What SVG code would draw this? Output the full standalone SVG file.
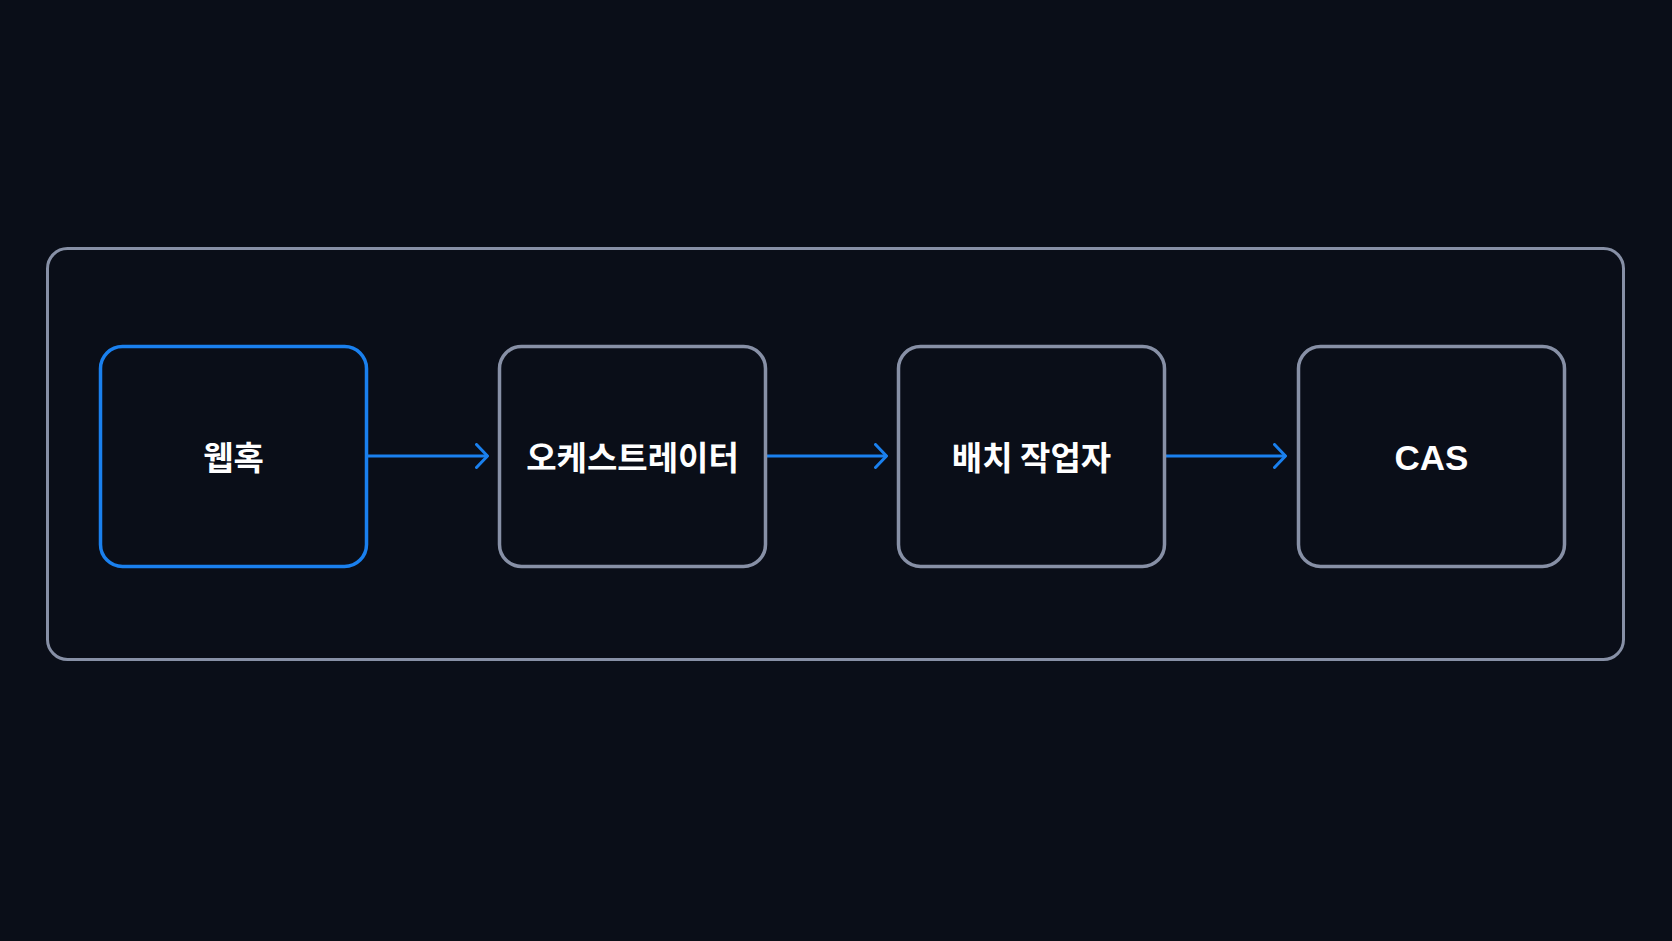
<svg xmlns="http://www.w3.org/2000/svg" width="1672" height="941" viewBox="0 0 1672 941">
<defs>
<style>
.bg{fill:#0a0e18}
.frame{fill:none;stroke:#8790a6;stroke-width:3}
.node{fill:#0a0e18;stroke:#8790a6;stroke-width:3.5}
.node.active{stroke:#1a80ee}
.lbl{font-family:"Noto Sans CJK KR","Noto Sans",sans-serif;font-weight:700;font-size:33px;fill:#ffffff;text-anchor:middle;dominant-baseline:central}
.latin{font-family:"Liberation Sans","Noto Sans CJK KR",sans-serif;font-size:35px}
.conn{fill:none;stroke:#1a80ee;stroke-width:3}
</style>
<marker id="chev" viewBox="0 0 14 26" refX="13" refY="13" markerWidth="14" markerHeight="26" markerUnits="userSpaceOnUse" orient="auto">
<path d="M1.5 1.5 L12.5 13 L1.5 24.5" fill="none" stroke="#1a80ee" stroke-width="3" stroke-linecap="round" stroke-linejoin="round"/>
</marker>
</defs>
<rect class="bg" x="0" y="0" width="1672" height="941"/>
<rect id="container" class="frame" x="47.5" y="248.5" width="1576" height="411" rx="20"/>
<g id="connectors">
<path class="conn" d="M367 456 H488" marker-end="url(#chev)"/>
<path class="conn" d="M766 456 H887" marker-end="url(#chev)"/>
<path class="conn" d="M1165 456 H1286" marker-end="url(#chev)"/>
</g>
<g id="node-webhook">
<rect class="node active" x="100.5" y="346.5" width="266" height="220" rx="22"/>
<text class="lbl" x="233.5" y="456">웹혹</text>
</g>
<g id="node-orchestrator">
<rect class="node" x="499.5" y="346.5" width="266" height="220" rx="22"/>
<text class="lbl" x="632.5" y="456">오케스트레이터</text>
</g>
<g id="node-batch">
<rect class="node" x="898.5" y="346.5" width="266" height="220" rx="22"/>
<text class="lbl" x="1031.5" y="456">배치 작업자</text>
</g>
<g id="node-cas">
<rect class="node" x="1298.5" y="346.5" width="266" height="220" rx="22"/>
<text class="lbl latin" x="1431.5" y="457">CAS</text>
</g>
</svg>
